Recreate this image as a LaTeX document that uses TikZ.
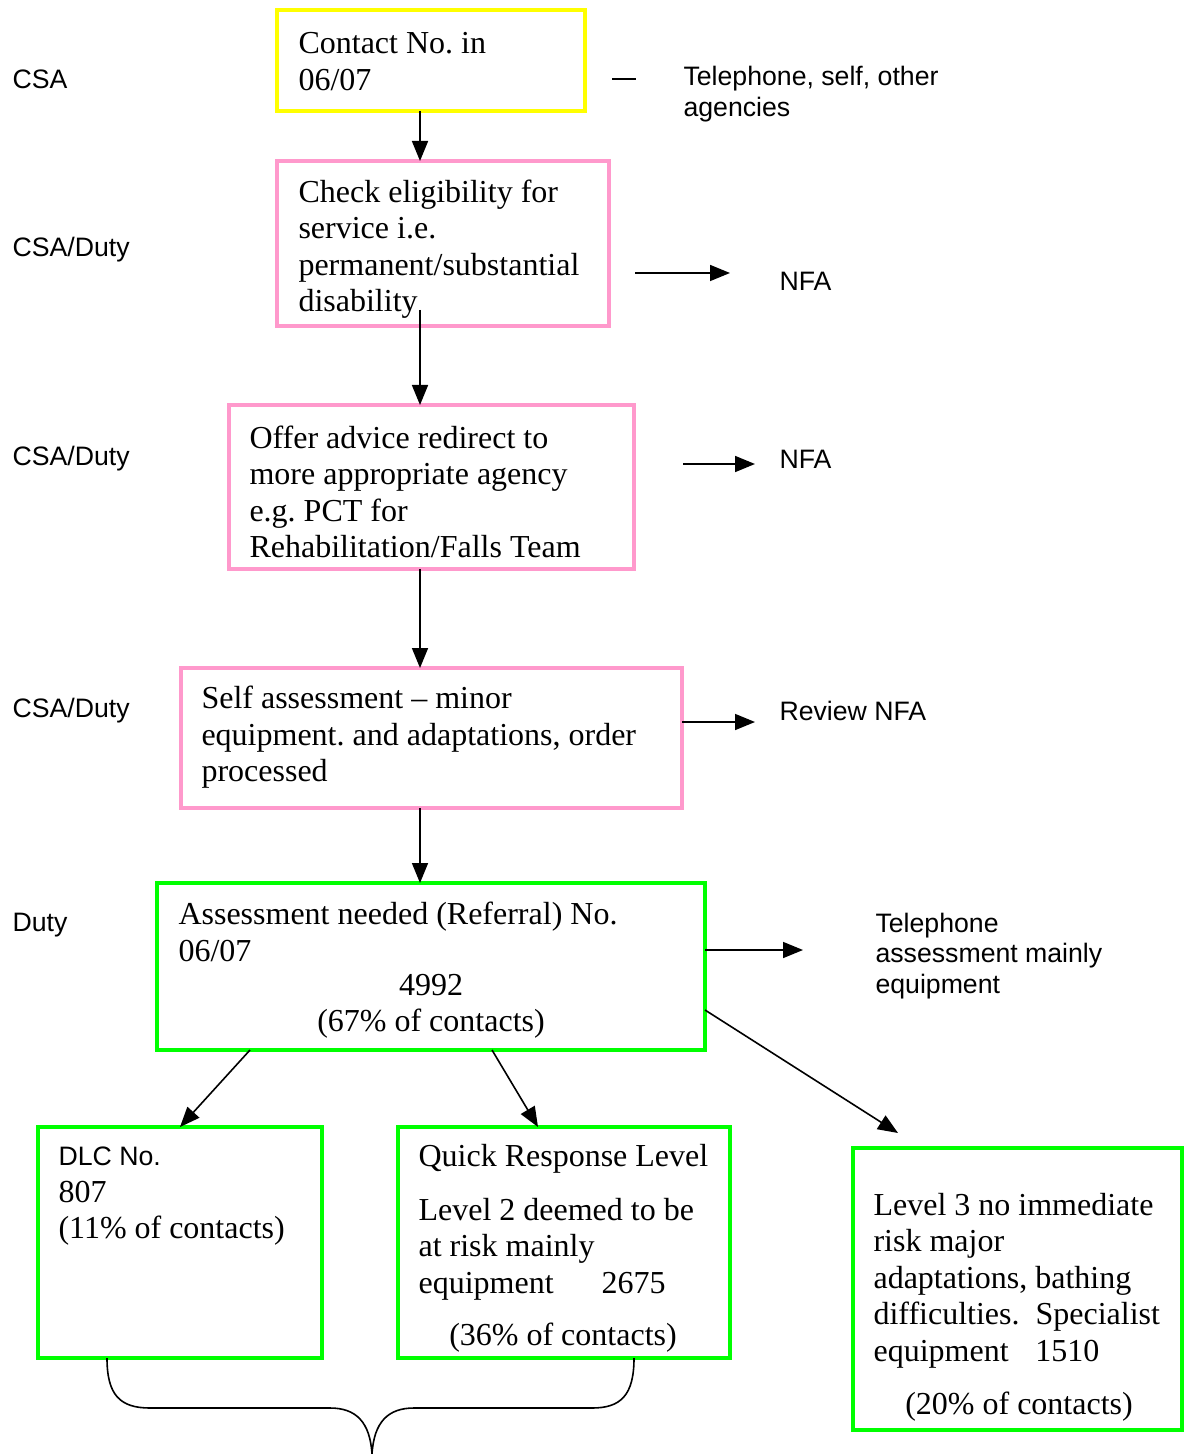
\documentclass[tikz,border=0pt]{standalone}
\usepackage{fontspec}
\setmainfont{Liberation Serif}
\setsansfont{Liberation Sans}
\usetikzlibrary{arrows.meta}
\definecolor{ylw}{RGB}{255,255,0}
\definecolor{pnk}{RGB}{255,153,204}
\definecolor{grn}{RGB}{0,255,0}
\frenchspacing
\begin{document}
\begin{tikzpicture}[x=0.375pt,y=-0.375pt,
  box/.style={draw, line width=1.6pt, inner sep=0pt, outer sep=0pt},
  ybox/.style={box, draw=ylw},
  pbox/.style={box, draw=pnk},
  gbox/.style={box, draw=grn},
  txt/.style={font=\fontsize{12}{13.7}\selectfont, align=left, inner sep=0pt, anchor=west},
  ctxt/.style={font=\fontsize{12}{13.7}\selectfont, align=center, inner sep=0pt},
  lbl/.style={font=\sffamily\fontsize{10}{11.5}\selectfont, align=left, inner sep=0pt, anchor=west},
  arr/.style={-{Triangle[length=7.5pt,width=6pt]}, line width=0.6pt},
  ln/.style={line width=0.6pt}]
\useasboundingbox (0,0) rectangle (1186,1454);

% boxes
\node[ybox, minimum width=115.5pt, minimum height=37.875pt] (b1) at (431,60.5) {};
\node[pbox, minimum width=124.5pt, minimum height=61.875pt] (b2) at (443,243.5) {};
\node[pbox, minimum width=151.875pt, minimum height=61.5pt] (b3) at (431.5,487) {};
\node[pbox, minimum width=187.875pt, minimum height=52.5pt] (b4) at (431.5,738) {};
\node[gbox, minimum width=205.5pt, minimum height=62.625pt] (b5) at (431,966.5) {};
\node[gbox, minimum width=106.5pt, minimum height=86.625pt] (b6) at (180,1242.5) {};
\node[gbox, minimum width=124.5pt, minimum height=86.625pt] (b7) at (564,1242.5) {};
\node[gbox, minimum width=123.375pt, minimum height=105.75pt] (b8) at (1017.5,1289) {};

% box texts
\node[txt] (t1) at (298,61.5) {Contact No. in\\06/07};
\node[txt] (t2) at (298,249) {Check eligibility for\\service i.e.\\permanent/substantial\\disability};
\node[txt] (t3) at (249,492) {Offer advice redirect to\\more appropriate agency\\e.g. PCT for\\Rehabilitation/Falls Team};
\node[txt] (t4) at (201,737.5) {Self assessment -- minor\\equipment. and adaptations, order\\processed};
\node[txt] (t5a) at (178,932) {Assessment needed (Referral) No.\\06/07};
\node[ctxt] (t5b) at (431,1006.5) {4992\\(67\% of contacts)};
\node[txt] (t6) at (58,1196.5) {{\sffamily\fontsize{10}{11.5}\selectfont DLC No.}\\807\\(11\% of contacts)};
\node[txt] (t7a) at (418,1159) {Quick Response Level};
\node[txt] (t7b) at (418,1249) {Level 2 deemed to be\\at risk mainly\\equipment\hspace{18pt}2675};
\node[ctxt] (t7c) at (563,1338) {(36\% of contacts)};
\node[txt] (t8a) at (873,1280.5) {Level 3 no immediate\\risk major\\adaptations, bathing\\difficulties.\ \ Specialist\\equipment\hspace{10pt}1510};
\node[ctxt] (t8b) at (1019,1407) {(20\% of contacts)};

% side labels
\node[lbl] (l1) at (12,79) {CSA};
\node[lbl] (l2) at (12,250) {CSA/Duty};
\node[lbl] (l3) at (12,459) {CSA/Duty};
\node[lbl] (l4) at (12,711) {CSA/Duty};
\node[lbl] (l5) at (12,925) {Duty};
\node[lbl] (r1) at (683,94) {Telephone, self, other\\agencies};
\node[lbl] (r2) at (779,281) {NFA};
\node[lbl] (r3) at (779,459) {NFA};
\node[lbl] (r4) at (779,711) {Review NFA};
\node[lbl] (r5) at (875,956) {Telephone\\assessment mainly\\equipment};

% coordinates
\coordinate (c2) at (420,310);
\coordinate (d1a) at (612,79); \coordinate (d1b) at (636,79);
\coordinate (s2a) at (635,273); \coordinate (s2b) at (730,273);
\coordinate (s3a) at (683,464); \coordinate (s3b) at (755,464);
\coordinate (s4b) at (755,722);
\coordinate (s5b) at (803,950);
\coordinate (c8) at (898,1133);

% main arrows
\draw[arr] (b1.south -| c2) -- (b2.north -| c2);
\draw[arr] (c2) -- (b3.north -| c2);
\draw[arr] (b3.south -| c2) -- (b4.north -| c2);
\draw[arr] (b4.south -| c2) -- (b5.north -| c2);
\draw[arr] (b5.south -| 250,0) -- (b6.north);
\draw[arr] (b5.south -| 492,0) -- (b7.north -| 538,0);
\draw[arr] (b5.east |- 0,1010) -- (c8);

% side arrows
\draw[ln] (d1a) -- (d1b);
\draw[arr] (s2a) -- (s2b);
\draw[arr] (s3a) -- (s3b);
\draw[arr] (b4.east |- s4b) -- (s4b);
\draw[arr] (b5.east |- s5b) -- (s5b);

% brace
\draw[ln] (b6.south -| 107,0) .. controls (107,1395) and (120,1408) .. (150,1408)
  -- (330,1408) .. controls (356,1408) and (370,1422) .. (372,1454);
\draw[ln] (b7.south -| 634,0) .. controls (634,1395) and (621,1408) .. (592,1408)
  -- (414,1408) .. controls (388,1408) and (374,1422) .. (372,1454);
\end{tikzpicture}
\end{document}
